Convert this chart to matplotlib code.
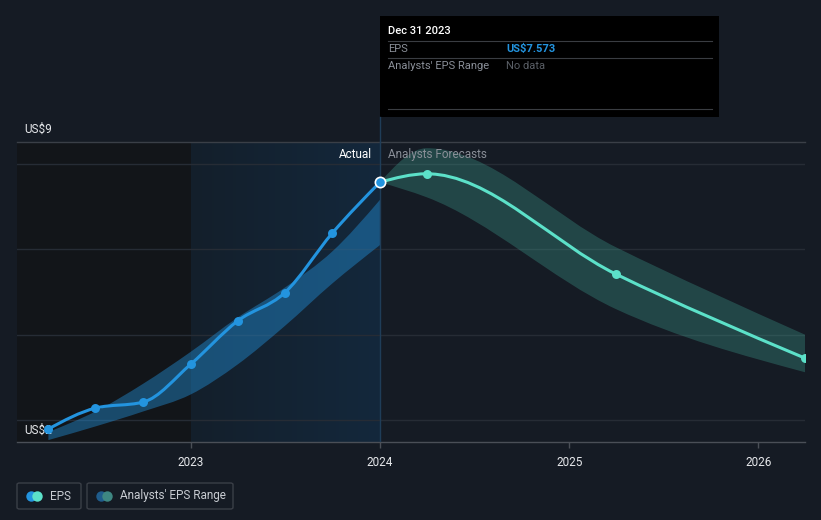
"""
EPS history and analyst forecast chart (dark theme)
"""

import matplotlib
matplotlib.use("Agg")
import matplotlib.pyplot as plt
import numpy as np
from matplotlib.path import Path
from matplotlib.patches import PathPatch, Rectangle, FancyBboxPatch
from matplotlib.lines import Line2D

plt.rcParams['font.family'] = ['Roboto', 'DejaVu Sans']

# --- data (fractional years, EPS in US$) ---
actual_x = [2022.247, 2022.496, 2022.748, 2023.0, 2023.247, 2023.496, 2023.748, 2024.0]
actual_eps = [1.79, 2.28, 2.42, 3.31, 4.32, 4.98, 6.38, 7.573]
actual_hi = [1.72, 2.20, 2.85, 3.60, 4.40, 5.10, 5.95, 7.16]
actual_lo = [1.53, 1.85, 2.20, 2.60, 3.30, 4.20, 5.20, 6.10]

fc_x = [2024.0, 2024.247, 2025.247, 2026.247]
fc_eps = [7.573, 7.77, 5.42, 3.45]
fc_hi = [7.573, 8.37, 6.05, 4.00]
fc_lo = [7.573, 7.22, 4.60, 3.12]

year_ticks = [2023, 2024, 2025, 2026]
grid_vals = [2, 4, 6, 8]

BG = '#151b24'
BLUE = '#2394df'
TEAL = '#5ce1c9'
W, H = 821, 520


def monotone_vertices(xs, ys):
    """Bezier vertices for a monotone-x cubic through the points (d3 style)."""
    xs = np.asarray(xs, float)
    ys = np.asarray(ys, float)
    n = len(xs)
    h = np.diff(xs)
    s = np.diff(ys) / h
    m = np.zeros(n)
    for i in range(1, n - 1):
        p = (s[i - 1] * h[i] + s[i] * h[i - 1]) / (h[i - 1] + h[i])
        m[i] = (np.sign(s[i - 1]) + np.sign(s[i])) * min(abs(s[i - 1]), abs(s[i]), 0.5 * abs(p))
    m[0] = (3 * s[0] - m[1]) / 2 if n > 2 else s[0]
    m[-1] = (3 * s[-1] - m[-2]) / 2 if n > 2 else s[-1]
    verts = [(xs[0], ys[0])]
    codes = [Path.MOVETO]
    for i in range(n - 1):
        d = h[i] / 3
        verts += [(xs[i] + d, ys[i] + m[i] * d),
                  (xs[i + 1] - d, ys[i + 1] - m[i + 1] * d),
                  (xs[i + 1], ys[i + 1])]
        codes += [Path.CURVE4] * 3
    return verts, codes


def curve_patch(xs, ys, **kw):
    verts, codes = monotone_vertices(xs, ys)
    return PathPatch(Path(verts, codes), fill=False, **kw)


def band_patch(xs, lo, hi, **kw):
    vu, cu = monotone_vertices(xs, hi)
    vl, cl = monotone_vertices(xs[::-1], lo[::-1])
    verts = vu + [vl[0]] + vl[1:] + [vu[0]]
    codes = cu + [Path.LINETO] + cl[1:] + [Path.CLOSEPOLY]
    return PathPatch(Path(verts, codes), **kw)


def fx(px):
    return px / W


def fy(py):
    return 1 - py / H


fig = plt.figure(figsize=(W / 100, H / 100), dpi=100, facecolor=BG)
ax = fig.add_axes([fx(17), fy(442), fx(805) - fx(17), fy(142) - fy(442)])
ax.set_facecolor(BG)
xmin, xmax = 2022.081, 2026.247
ymin, ymax = 1.485, 8.515
ax.set_xlim(xmin, xmax)
ax.set_ylim(ymin, ymax)
for sp in ax.spines.values():
    sp.set_visible(False)
ax.set_yticks([])
ax.set_xticks(year_ticks)
ax.set_xticklabels([str(y) for y in year_ticks])
ax.tick_params(axis='x', colors='#4a4f57', length=4, width=1, pad=6,
               labelcolor='#e6e8eb', labelsize=8.5)

# past region (darker) and actual period highlight (gradient)
ax.axvspan(xmin, actual_x[3], color='#121519', zorder=0, lw=0)
grad = np.linspace(0, 1, 256).reshape(1, -1)
ax.imshow(grad, extent=[actual_x[3], actual_x[-1], ymin, ymax], aspect='auto',
          cmap=matplotlib.colors.LinearSegmentedColormap.from_list('g', ['#141f2b', '#13283c']),
          zorder=0.5)

# grid
for g in grid_vals:
    ax.axhline(g, color='#262c35', lw=1, zorder=1)
ax.axhline(ymax, color='#3a3f47', lw=1, zorder=1, clip_on=False)
ax.axhline(ymin, color='#4a4f57', lw=1, zorder=1, clip_on=False)

# bands
ax.add_patch(band_patch(actual_x, actual_lo, actual_hi, facecolor=BLUE, alpha=0.42, lw=0, zorder=2))
ax.add_patch(band_patch(fc_x, fc_lo, fc_hi, facecolor='#3fa393', alpha=0.32, lw=0, zorder=2))

# divider at today
ax.plot([actual_x[-1], actual_x[-1]], [ymin, ymax], color='#1f3d58', lw=1, zorder=2)
fig.add_artist(Line2D([fx(380), fx(380)], [fy(117), fy(142)], color='#1f3d58', lw=1))

# y labels (inside axes so the first marker sits on top of "US$2")
ax.text(fx(24), fy(129), 'US$9', transform=fig.transFigure, color='#e6e8eb',
        fontsize=8.5, va='center', clip_on=False, zorder=3.5)
ax.text(fx(24), fy(430), 'US$2', transform=fig.transFigure, color='#e6e8eb',
        fontsize=8.5, va='center', clip_on=False, zorder=3.5)

# lines
ax.add_patch(curve_patch(actual_x, actual_eps, edgecolor=BLUE, lw=2.2, zorder=3, capstyle='round'))
ax.add_patch(curve_patch(fc_x, fc_eps, edgecolor=TEAL, lw=2.2, zorder=3, capstyle='round'))
ax.scatter(actual_x[:-1], actual_eps[:-1], s=42, color=BLUE, zorder=4, lw=0)
ax.scatter(fc_x[1:], fc_eps[1:], s=42, color=TEAL, zorder=4, lw=0)
ax.scatter(actual_x[-1:], actual_eps[-1:], s=55, color=BLUE, edgecolor='white', lw=1.2, zorder=5)

# labels in plot
ax.text(actual_x[-1] - 0.04, 8.23, 'Actual', color='#ffffff',
        fontsize=8.5, ha='right', va='center', zorder=6)
ax.text(actual_x[-1] + 0.04, 8.23, 'Analysts Forecasts', color='#8a8f98',
        fontsize=8.5, ha='left', va='center', zorder=6)

# tooltip
fig.add_artist(Rectangle((fx(380), fy(117)), fx(719) - fx(380), fy(16) - fy(117),
                         facecolor='black', edgecolor='none'))
for yy in [41, 58, 109]:
    fig.add_artist(Line2D([fx(388), fx(712)], [fy(yy), fy(yy)], color='#3a3d42', lw=0.8))
fig.text(fx(388), fy(31), 'Dec 31 2023', color='white', fontsize=8, va='center', weight='medium')
fig.text(fx(388), fy(49), 'EPS', color='#8a8f98', fontsize=8, va='center')
fig.text(fx(506), fy(49), f'US${actual_eps[-1]:.3f}', color=BLUE, fontsize=8, va='center', weight='bold')
fig.text(fx(388), fy(66), "Analysts' EPS Range", color='#8a8f98', fontsize=8, va='center')
fig.text(fx(506), fy(66), 'No data', color='#5a5f66', fontsize=8, va='center')

# legend
for (x0, x1), label, c1, c2 in [((17, 81), 'EPS', BLUE, TEAL),
                               ((87, 233), "Analysts' EPS Range", '#1f5c8c', '#3e8782')]:
    fig.add_artist(FancyBboxPatch((fx(x0), fy(509)), fx(x1) - fx(x0), fy(483) - fy(509),
                                  boxstyle='round,pad=0,rounding_size=0.003',
                                  facecolor='none', edgecolor='#3a3f47', lw=1))
    fig.add_artist(Line2D([fx(x0 + 14)], [fy(496)], marker='o', ms=7.5, color=c1, mew=0))
    fig.add_artist(Line2D([fx(x0 + 20)], [fy(496)], marker='o', ms=7.5, color=c2, mew=0))
    fig.text(fx(x0 + 33), fy(496), label, color='#c8ccd2', fontsize=8.5, va='center')

fig.savefig('out.png', dpi=100, facecolor=BG)
